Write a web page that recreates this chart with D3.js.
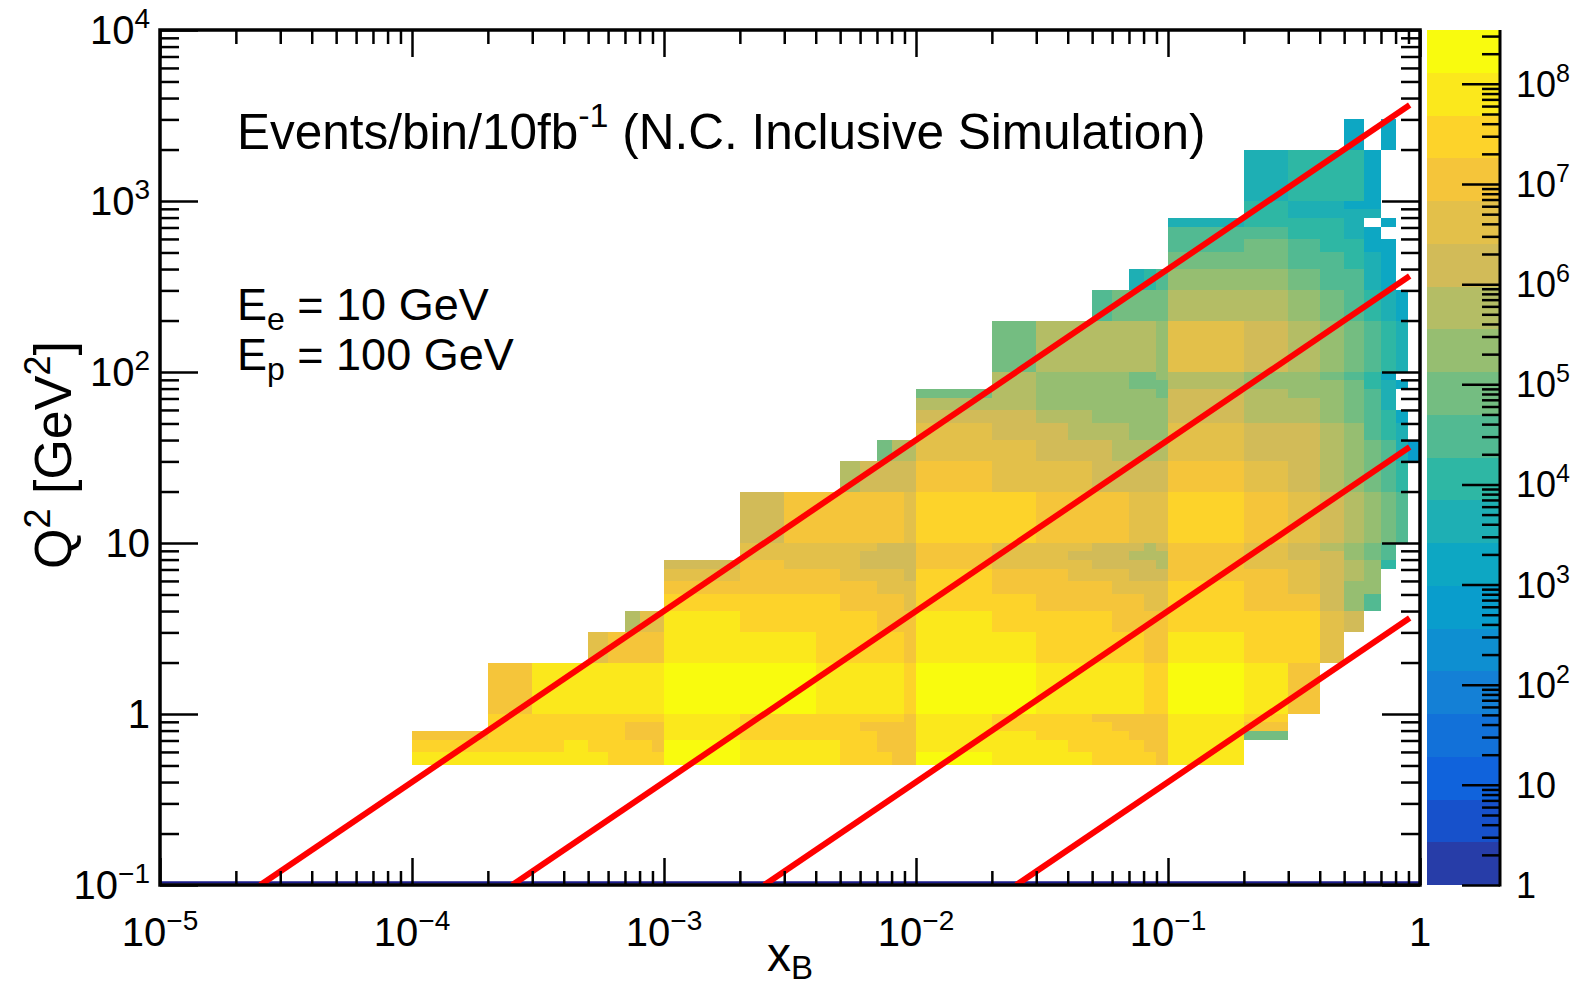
<!DOCTYPE html>
<html>
<head>
<meta charset="utf-8">
<script src="https://cdn.jsdelivr.net/npm/d3@7"></script>
<style>
  html, body { margin: 0; padding: 0; background: #fff; }
  svg { display: block; font-family: "Liberation Sans", Arial, Helvetica, sans-serif; }
</style>
</head>
<body>
<svg id="chart" width="1573" height="987"></svg>
<script>
// ---- binning (x_B and Q^2 bin edges) ----
const xBinEdges = [1e-4, 2e-4, 3e-4, 4e-4, 5e-4, 6e-4, 7e-4, 8e-4, 9e-4,
                   1e-3, 2e-3, 3e-3, 4e-3, 5e-3, 6e-3, 7e-3, 8e-3, 9e-3,
                   1e-2, 2e-2, 3e-2, 4e-2, 5e-2, 6e-2, 7e-2, 8e-2, 9e-2,
                   0.1, 0.2, 0.3, 0.4, 0.5, 0.6, 0.7, 0.8, 0.9, 1];
const q2BinEdges = [0.5, 0.6, 0.7, 0.8, 0.9,
                    1, 2, 3, 4, 5, 6, 7, 8, 9,
                    10, 20, 30, 40, 50, 60, 70, 80, 90,
                    100, 200, 300, 400, 500, 600, 700, 800, 900,
                    1000, 2000, 3000];

// ---- log10(events per bin) ; each row: [first x-bin index, values...] ----
const _ = null;
// Q^2 from 0.5 to 1 GeV^2
const log10EventsQ2below1 = [
  [0, [7.9,7.9,7.9,7.9,7.9,7.5,7.5,7.5,7.5, 8.3,7.9,7.9,7.9,7.5,7.5,7.5,7.0,7.0, 8.3,7.9,7.9,7.9,7.5,7.5,7.5,7.5,7.0, 7.9]],
  [0, [7.5,7.5,7.5,7.9,7.5,7.5,7.5,7.5,7.0, 8.3,7.9,7.9,7.9,7.5,7.5,7.0,7.0,7.0, 7.9,7.9,7.9,7.5,7.5,7.5,7.5,7.0,7.0, 7.9]],
  [0, [7.0,7.5,7.5,7.5,7.5,7.5,7.0,7.0,7.0, 7.9,7.5,7.5,7.5,7.5,7.5,7.0,7.0,7.0, 7.9,7.9,7.5,7.5,7.5,7.5,7.0,7.0,7.0, 7.9,4.9]],
  [1, [7.5,7.5,7.5,7.5,7.5,7.0,7.0,7.0, 7.9,7.5,7.5,7.5,7.5,7.0,7.0,7.0,7.0, 7.9,7.5,7.5,7.5,7.5,7.0,7.0,7.0,7.0, 7.9,7.0]],
  [1, [7.5,7.5,7.5,7.5,7.5,7.5,7.5,7.5, 7.9,7.5,7.5,7.5,7.5,7.5,7.5,7.5,7.0, 7.9,7.5,7.5,7.5,7.0,7.0,7.0,7.0,7.0, 7.9,7.5]]
];
// Q^2 from 1 to 10 GeV^2
const log10EventsQ2from1to10 = [
  [1, [7.0,7.9,7.9,7.9,7.9,7.9,7.9,7.9, 8.3,8.3,8.3,7.9,7.9,7.9,7.9,7.9,7.5, 8.3,8.3,7.9,7.9,7.9,7.9,7.9,7.5,7.5, 8.3,7.9,7.0]],
  [4, [6.6,7.0,7.0,7.0,7.0, 7.9,7.9,7.9,7.5,7.5,7.5,7.5,7.5,7.0, 7.9,7.9,7.5,7.5,7.5,7.5,7.5,7.0,7.0, 7.9,7.5,7.5,6.6]],
  [6, [5.8,6.6,6.6, 7.9,7.5,7.5,7.5,7.5,7.5,7.0,7.0,7.0, 7.9,7.5,7.5,7.5,7.5,7.0,7.0,7.0,7.0, 7.5,7.5,7.5,6.6,6.2]],
  [9, [7.5,7.5,7.5,7.5,7.0,7.0,7.0,7.0,6.6, 7.5,7.5,7.0,7.0,7.0,7.0,7.0,6.6,6.6, 7.5,7.0,7.0,6.2,5.3,4.5]],
  [9, [7.0,7.0,7.0,7.0,7.0,7.0,6.6,6.6,6.6, 7.5,7.0,7.0,7.0,7.0,6.6,6.6,6.6,6.6, 7.5,7.0,6.6,6.2,5.3,5.3]],
  [9, [6.6,7.0,7.0,7.0,6.6,6.6,6.6,6.6,6.2, 7.5,7.0,7.0,6.6,6.6,6.6,6.2,6.2,6.2, 7.0,7.0,6.6,6.2,5.8,5.3]],
  [9, [6.2,7.0,6.6,6.6,6.6,6.2,6.2,6.2,6.2, 7.0,6.6,6.6,6.6,6.2,6.2,6.2,6.2,5.8, 7.0,6.6,6.6,6.2,5.8,5.3,4.1]],
  [10, [6.6,6.6,6.6,6.6,6.2,6.2,6.2,6.2, 7.0,6.6,6.6,6.2,6.2,6.2,5.8,5.8,5.8, 7.0,6.6,6.2,6.2,5.3,4.9,4.5]],
  [10, [6.6,6.6,6.6,6.6,6.6,6.2,6.2,6.2, 7.0,6.6,6.6,6.6,6.2,6.2,6.2,5.8,6.2, 7.0,6.6,6.2,5.8,5.3,4.9,4.5]]
];
// Q^2 from 10 to 100 GeV^2
const log10EventsQ2from10to100 = [
  [10, [6.2,7.0,7.0,7.0,7.0,7.0,7.0,6.6, 7.5,7.5,7.0,7.0,7.0,7.0,6.6,6.6,6.6, 7.5,7.0,6.6,6.2,5.8,5.3,4.9,4.5]],
  [13, [5.8,6.2,6.2,6.2,6.2, 7.0,6.6,6.6,6.6,6.2,6.2,6.2,6.2,6.2, 7.0,6.6,6.2,5.8,5.3,4.9,4.5,4.1]],
  [15, [4.9,5.8,5.8, 6.6,6.6,6.2,6.2,6.2,5.8,5.8,5.8,5.8, 6.6,6.2,6.2,5.8,5.3,4.9,4.5,3.6,2.8]],
  [18, [6.6,6.2,6.2,5.8,5.8,5.8,5.3,5.3,5.3, 6.6,6.2,6.2,5.8,5.3,4.5,4.1,3.6]],
  [18, [6.2,6.2,5.8,5.8,5.3,5.3,5.3,5.3,5.3, 6.2,5.8,5.8,5.3,4.9,4.5,4.1,3.2]],
  [18, [5.8,5.8,5.3,5.3,5.3,5.3,5.3,5.3,5.3, 6.2,5.8,5.8,5.3,4.9,4.5,3.6]],
  [18, [4.9,5.8,5.3,5.3,5.3,5.3,5.3,5.3,4.9, 6.2,5.8,5.3,5.3,4.9,4.5,3.6]],
  [19, [5.8,5.3,5.3,5.3,5.3,4.9,4.9,4.9, 5.8,5.3,5.3,5.3,4.9,4.1,3.6,3.2]],
  [19, [5.8,5.3,5.3,5.3,5.3,4.9,4.9,5.3, 5.8,5.3,5.3,4.9,4.5,4.1,3.2]]
];
// Q^2 from 100 to 1000 GeV^2
const log10EventsQ2from100to1000 = [
  [19, [4.9,5.8,5.8,5.8,5.8,5.8,5.8,5.3, 6.6,6.2,5.8,5.3,4.9,4.5,4.1,3.6]],
  [22, [4.5,4.9,4.9,4.9,4.9, 5.8,5.8,5.3,4.9,4.5,4.1,3.6,3.2]],
  [24, [3.6,4.1,4.5, 5.3,5.3,4.9,4.5,4.5,3.6,3.2]],
  [27, [4.9,4.9,4.5,4.5,4.1,3.6,3.2]],
  [27, [4.5,4.9,4.5,4.1,4.1,3.2,3.2]],
  [27, [4.5,4.5,4.1,4.1,3.6,3.2]],
  [27, [3.6,4.1,4.1,4.1,3.6,_,3.2]],
  [28, [4.1,3.6,3.6,3.6,3.6]],
  [28, [4.1,3.6,3.6,3.2,3.2]]
];
// Q^2 above 1000 GeV^2
const log10EventsQ2above1000 = [
  [28, [3.6,4.1,4.1,4.1,3.2]],
  [31, [3.2,_,3.2]]
];

// ---- colour scale: 20 contour levels, maximum of the z axis ----
const zMax = 3.45e8;
const nContours = 20;

// ---- constant-inelasticity lines Q^2 = s x y ----
const beamElectron = 10;   // GeV
const beamProton = 100;    // GeV
const inelasticity = [1, 0.1, 0.01, 0.001];
const lineXmax = 0.91;

// ---- tick labels (exponents of ten) ----
const xLabelExponents = [-5, -4, -3, -2, -1, 0];
const yLabelExponents = [-1, 0, 1, 2, 3, 4];
const zLabelExponents = [0, 1, 2, 3, 4, 5, 6, 7, 8];

// ---- "bird" palette ----
const birdStops = [0.0, 0.125, 0.25, 0.375, 0.5, 0.625, 0.75, 0.875, 1.0];
const birdRed   = [0.2082, 0.0592, 0.0780, 0.0232, 0.1802, 0.5301, 0.8186, 0.9956, 0.9764];
const birdGreen = [0.1664, 0.3599, 0.5041, 0.6419, 0.7178, 0.7492, 0.7328, 0.7862, 0.9832];
const birdBlue  = [0.5293, 0.8684, 0.8385, 0.7914, 0.6425, 0.4662, 0.3499, 0.1968, 0.0539];

const svg = d3.select("#chart");
const frame = { left: 160, right: 1420, top: 30, bottom: 885 };
const bar = { left: 1427, right: 1500 };

const x = d3.scaleLog().domain([1e-5, 1]).range([frame.left, frame.right]);
const y = d3.scaleLog().domain([0.1, 1e4]).range([frame.bottom, frame.top]);
const z = d3.scaleLog().domain([1, zMax]).range([frame.bottom, frame.top]);
const zFrac = d3.scaleLog().domain([1, zMax]).range([0, 1]);

const bird = d3.scaleLinear()
  .domain(birdStops)
  .range(birdStops.map((s, i) => d3.rgb(birdRed[i] * 255, birdGreen[i] * 255, birdBlue[i] * 255).toString()))
  .interpolate(d3.interpolateRgb);

function levelColor(k) {
  const idx = Math.floor((k + 0.99) * 255 / nContours);
  return bird(idx / 254);
}
function levelOf(count) {
  return Math.max(0, Math.min(nContours - 1, Math.floor(zFrac(count) * nContours)));
}

// ---- collect cells ----
const rowGroups = [
  [0, log10EventsQ2below1],
  [5, log10EventsQ2from1to10],
  [14, log10EventsQ2from10to100],
  [23, log10EventsQ2from100to1000],
  [32, log10EventsQ2above1000]
];
const cells = [];
rowGroups.forEach(([firstRow, rows]) => {
  rows.forEach(([firstCol, vals], i) => {
    vals.forEach((v, j) => {
      if (v !== null) cells.push({ ix: firstCol + j, iy: firstRow + i, count: Math.pow(10, v) });
    });
  });
});

// ---- clip to frame ----
svg.append("defs").append("clipPath").attr("id", "frameClip")
  .append("rect")
  .attr("x", frame.left).attr("y", frame.top)
  .attr("width", frame.right - frame.left).attr("height", frame.bottom - frame.top);

const plot = svg.append("g").attr("clip-path", "url(#frameClip)");

plot.append("g").attr("shape-rendering", "crispEdges")
  .selectAll("rect").data(cells).join("rect")
  .attr("x", d => x(xBinEdges[d.ix]))
  .attr("width", d => x(xBinEdges[d.ix + 1]) - x(xBinEdges[d.ix]))
  .attr("y", d => y(q2BinEdges[d.iy + 1]))
  .attr("height", d => y(q2BinEdges[d.iy]) - y(q2BinEdges[d.iy + 1]))
  .attr("fill", d => levelColor(levelOf(d.count)));

// bottom line of the histogram drawing
plot.append("line")
  .attr("x1", frame.left).attr("x2", frame.right)
  .attr("y1", frame.bottom - 2.5).attr("y2", frame.bottom - 2.5)
  .attr("stroke", "#1c1c8a").attr("stroke-width", 2.5);

// ---- inelasticity lines ----
const sTotal = 4 * beamElectron * beamProton;
const q2Min = y.domain()[0];
const lineGen = d3.line().x(d => x(d[0])).y(d => y(d[1]));
plot.selectAll("path.yline").data(inelasticity).join("path")
  .attr("class", "yline")
  .attr("d", yv => {
    const x0 = q2Min / (sTotal * yv);
    return lineGen([[x0, q2Min], [lineXmax, sTotal * yv * lineXmax]]);
  })
  .attr("fill", "none").attr("stroke", "#ff0000").attr("stroke-width", 6);

// ---- frame + ticks ----
function logTicks(lo, hi) {
  const major = [], minor = [];
  for (let e = Math.floor(Math.log10(lo)); e <= Math.ceil(Math.log10(hi)); e++) {
    for (let m = 1; m < 10; m++) {
      const t = m * Math.pow(10, e);
      if (t < lo * 0.9999 || t > hi * 1.0001) continue;
      (m === 1 ? major : minor).push(t);
    }
  }
  return { major, minor };
}
function drawTicks(axisFn, scale, vals, size, tx, ty) {
  const g = svg.append("g").attr("transform", `translate(${tx},${ty})`)
    .call(axisFn(scale).tickValues(vals).tickSize(size).tickSizeOuter(0).tickFormat(""));
  g.select(".domain").remove();
  g.selectAll(".tick line").attr("stroke", "#000").attr("stroke-width", 2.5);
}
const xt = logTicks(1e-5, 1), yt = logTicks(0.1, 1e4), zt = logTicks(1, zMax);
drawTicks(d3.axisBottom, x, xt.major, -27, 0, frame.bottom);
drawTicks(d3.axisBottom, x, xt.minor, -14, 0, frame.bottom);
drawTicks(d3.axisTop, x, xt.major, -27, 0, frame.top);
drawTicks(d3.axisTop, x, xt.minor, -14, 0, frame.top);
drawTicks(d3.axisLeft, y, yt.major, -38, frame.left, 0);
drawTicks(d3.axisLeft, y, yt.minor, -19, frame.left, 0);
drawTicks(d3.axisRight, y, yt.major, -38, frame.right, 0);
drawTicks(d3.axisRight, y, yt.minor, -19, frame.right, 0);

svg.append("rect")
  .attr("x", frame.left).attr("y", frame.top)
  .attr("width", frame.right - frame.left).attr("height", frame.bottom - frame.top)
  .attr("fill", "none").attr("stroke", "#000").attr("stroke-width", 3.5);

// ---- tick labels ----
function powerText(sel, exp, supSize, supDy) {
  if (exp === 0) { sel.text("1"); return; }
  if (exp === 1) { sel.text("10"); return; }
  sel.text("10");
  sel.append("tspan").attr("dy", supDy).attr("font-size", supSize)
    .text(exp < 0 ? "\u2212" + (-exp) : String(exp));
}
xLabelExponents.forEach(e => {
  const t = svg.append("text")
    .attr("x", x(Math.pow(10, e))).attr("y", 946)
    .attr("text-anchor", "middle").attr("font-size", 40).attr("fill", "#000");
  powerText(t, e, 28, -16);
});
yLabelExponents.forEach(e => {
  const t = svg.append("text")
    .attr("x", 150).attr("y", y(Math.pow(10, e)) + 14)
    .attr("text-anchor", "end").attr("font-size", 40).attr("fill", "#000");
  powerText(t, e, 28, -16);
});

// ---- axis titles ----
const xTitle = svg.append("text").attr("x", 790).attr("y", 971)
  .attr("text-anchor", "middle").attr("font-size", 48).attr("fill", "#000");
xTitle.append("tspan").text("x");
xTitle.append("tspan").attr("dy", 8).attr("font-size", 33).text("B");

const yTitle = svg.append("text")
  .attr("transform", "translate(71,455) rotate(-90)")
  .attr("text-anchor", "middle").attr("font-size", 52).attr("fill", "#000");
yTitle.append("tspan").text("Q");
yTitle.append("tspan").attr("dy", -21).attr("font-size", 36).text("2");
yTitle.append("tspan").attr("dy", 21).text(" [GeV");
yTitle.append("tspan").attr("dy", -21).attr("font-size", 36).text("2");
yTitle.append("tspan").attr("dy", 21).text("]");

// ---- text annotations ----
const title = svg.append("text").attr("x", 237).attr("y", 149)
  .attr("font-size", 49.5).attr("fill", "#000");
title.append("tspan").text("Events/bin/10fb");
title.append("tspan").attr("dy", -22).attr("font-size", 34).text("-1");
title.append("tspan").attr("dy", 22).text(" (N.C. Inclusive Simulation)");

function beamText(yBase, sub, rest) {
  const t = svg.append("text").attr("x", 237).attr("y", yBase)
    .attr("font-size", 45).attr("fill", "#000");
  t.append("tspan").text("E");
  t.append("tspan").attr("dy", 10).attr("font-size", 32).text(sub);
  t.append("tspan").attr("dy", -10).text(rest);
}
beamText(320, "e", " = " + beamElectron + " GeV");
beamText(370, "p", " = " + beamProton + " GeV");

// ---- colour bar ----
const zLogMax = Math.log10(zMax);
const bands = d3.range(nContours).map(k => ({
  k,
  lo: Math.pow(10, k * zLogMax / nContours),
  hi: Math.pow(10, (k + 1) * zLogMax / nContours)
}));
svg.append("g").attr("shape-rendering", "crispEdges")
  .selectAll("rect").data(bands).join("rect")
  .attr("x", bar.left).attr("width", bar.right - bar.left)
  .attr("y", d => z(d.hi)).attr("height", d => z(d.lo) - z(d.hi))
  .attr("fill", d => levelColor(d.k));

drawTicks(d3.axisRight, z, zt.major, -38, bar.right, 0);
drawTicks(d3.axisRight, z, zt.minor, -18, bar.right, 0);
svg.append("line")
  .attr("x1", bar.right).attr("x2", bar.right)
  .attr("y1", frame.top).attr("y2", frame.bottom + 1.5)
  .attr("stroke", "#000").attr("stroke-width", 3);

zLabelExponents.forEach(e => {
  const t = svg.append("text")
    .attr("x", 1516).attr("y", z(Math.pow(10, e)) + 13)
    .attr("text-anchor", "start").attr("font-size", 36).attr("fill", "#000");
  powerText(t, e, 25, -15);
});
</script>
</body>
</html>
